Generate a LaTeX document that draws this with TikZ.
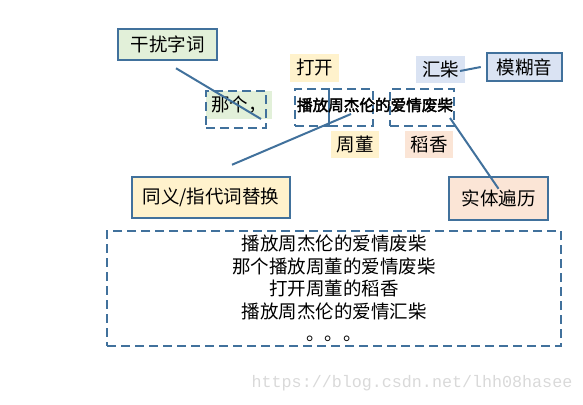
\documentclass[tikz,border=0pt]{standalone}
\usepackage{fontspec}
\setmainfont{Noto Sans CJK SC}
\newfontfamily\cjkbold[FakeBold=2.5]{Noto Sans CJK SC}
\newfontfamily\markfont{Liberation Mono}
\definecolor{edgeblue}{HTML}{41719C}
\definecolor{fillgreen}{HTML}{E2F0D9}
\definecolor{fillyellow}{HTML}{FFF2CC}
\definecolor{fillblue}{HTML}{DAE3F3}
\definecolor{fillorange}{HTML}{FBE5D6}
\definecolor{markgray}{HTML}{D9D9D9}

\begin{document}
\begin{tikzpicture}[x=1pt,y=-1pt,
	tag/.style={draw=edgeblue, line width=2.5pt, inner sep=0pt, font=\fontsize{18.5}{20}\selectfont},
	word/.style={inner sep=0pt, minimum height=27pt, font=\fontsize{18.5}{20}\selectfont},
	span/.style={draw=edgeblue, line width=2pt, dash pattern=on 9pt off 5pt, inner sep=0pt},
	link/.style={draw=edgeblue, line width=2pt}]
			\useasboundingbox (0,0) rectangle (583,404);

			\node[word, fill=fillgreen, minimum width=66pt, minimum height=28pt] (ng) at (239,105) {那个，};
			\node[word, fill=fillyellow, minimum width=49pt] (dk) at (314.5,68) {打开};
			\node[word, fill=fillyellow, minimum width=48pt] (zd) at (355,144.5) {周董};
			\node[word, fill=fillblue, minimum width=49pt] (hc) at (440.5,69.5) {汇柴};
			\node[word, fill=fillorange, minimum width=48pt] (dx) at (429,144.5) {稻香};

			\node[tag, fill=fillgreen, minimum width=99pt, minimum height=31pt] (gr) at (167.5,44.5) {干扰字词};
			\node[tag, fill=fillblue, minimum width=75pt, minimum height=28pt] (mh) at (524.5,67) {模糊音};
			\node[tag, fill=fillyellow, minimum width=158pt, minimum height=41pt] (ty) at (211,197.5) {同义/指代词替换};
			\node[tag, fill=fillorange, minimum width=99pt, minimum height=43pt] (st) at (498.5,198.5) {实体遍历};

			\node[span, minimum width=60pt, minimum height=37pt] (ngbox) at (236,109.5) {};
			\node[span, minimum width=34pt, minimum height=37pt] (bf) at (312,107.5) {};
			\node[span, minimum width=44pt, minimum height=37pt] (zjl) at (351,107.5) {};
			\node[span, minimum width=64pt, minimum height=37pt] (aq) at (422,107.5) {};
			\node[inner sep=0pt, font=\cjkbold\fontsize{15.6}{17}\selectfont] (sent) at (375,105) {播放周杰伦的爱情废柴};

			\node[span, minimum width=454pt, minimum height=115pt, align=center, font=\fontsize{18.5}{22.5}\selectfont] (out) at (334,288.5)
				{播放周杰伦的爱情废柴\\那个播放周董的爱情废柴\\打开周董的稻香\\播放周杰伦的爱情汇柴\\。。。};

			\node[inner sep=0pt, text=markgray, font=\markfont\fontsize{16.7}{18}\selectfont] (mark) at (412,383) {https://blog.csdn.net/lhh08hasee};

			\coordinate (grtip) at ([shift={(8.5,7)}]gr.south);
			\coordinate (ngtip) at (261,119);
			\coordinate (tytip) at ([shift={(21,-11)}]ty.north);
			\coordinate (zjltip) at (351,114);
			\coordinate (aqtip) at (450,118);
			\coordinate (sttip) at ([yshift=-13pt]st.north);
			\coordinate (hctip) at (460,71);
			\coordinate (mhtip) at ([xshift=-5pt]mh.west);

			\path[link] (grtip) -- (ngtip);
			\path[link] (tytip) -- (zjltip);
			\path[link] (aqtip) -- (sttip);
			\path[link] (hctip) -- (mhtip);
		\end{tikzpicture}
\end{document}
